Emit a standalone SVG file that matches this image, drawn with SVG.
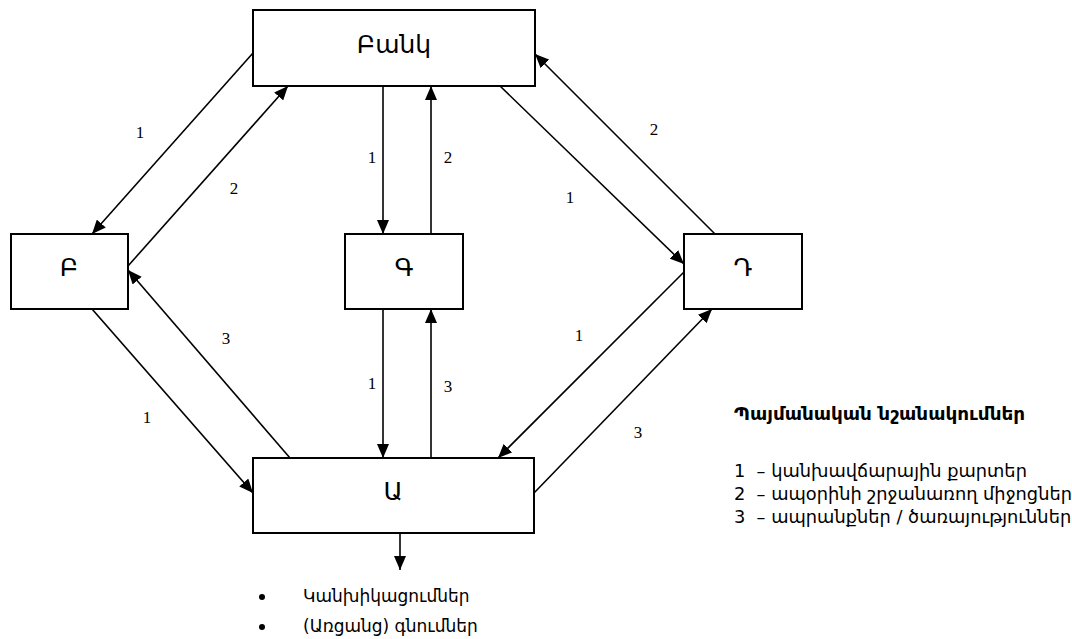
<svg xmlns="http://www.w3.org/2000/svg" width="1072" height="639" viewBox="0 0 1072 639">
<style>
.box{fill:#fff;stroke:#000;stroke-width:2}
.lbl{font-family:"DejaVu Sans","Noto Sans",sans-serif;font-size:25px;fill:#000;text-anchor:middle}
.num{font-family:"Liberation Serif","DejaVu Serif",serif;font-size:17px;fill:#000;text-anchor:middle}
.con line{stroke:#000;stroke-width:1.6;fill:none}
.arr{marker-end:url(#ah)}
.txt{font-family:"DejaVu Sans","Noto Sans",sans-serif;font-size:17.8px;fill:#000}
.btx{font-family:"DejaVu Sans","Noto Sans",sans-serif;font-size:17px;fill:#000}
.ttl{font-family:"DejaVu Sans","Noto Sans",sans-serif;font-size:18.4px;font-weight:bold;fill:#000}
</style>
<defs>
<marker id="ah" markerUnits="userSpaceOnUse" markerWidth="14" markerHeight="12" refX="14" refY="6" orient="auto">
<path d="M0,0 L14,6 L0,12 Z" fill="#000"/>
</marker>
</defs>
<g class="con">
<line class="arr" x1="253" y1="53" x2="92" y2="234"/>
<line class="arr" x1="128" y1="266" x2="288" y2="86"/>
<line class="arr" x1="383" y1="86" x2="383" y2="234"/>
<line class="arr" x1="431" y1="234" x2="431" y2="86"/>
<line class="arr" x1="500" y1="86" x2="684" y2="264"/>
<line class="arr" x1="715" y1="234" x2="535" y2="54"/>
<line class="arr" x1="92" y1="309" x2="253" y2="493"/>
<line class="arr" x1="290" y1="458" x2="128" y2="270"/>
<line class="arr" x1="383" y1="309" x2="383" y2="458"/>
<line class="arr" x1="431" y1="458" x2="431" y2="309"/>
<line class="arr" x1="684" y1="272" x2="498" y2="458"/>
<line class="arr" x1="534" y1="493" x2="712" y2="309"/>
<line class="arr" x1="400" y1="533" x2="400" y2="570"/>
</g>
<g id="bank"><rect class="box" x="253" y="10" width="282" height="76"/><text class="lbl" x="394" y="53">Բանկ</text></g>
<g id="b"><rect class="box" x="11" y="234" width="117" height="75"/><text class="lbl" x="69" y="276">Բ</text></g>
<g id="g"><rect class="box" x="345" y="234" width="118" height="75"/><text class="lbl" x="404" y="276">Գ</text></g>
<g id="d"><rect class="box" x="684" y="234" width="118" height="75"/><text class="lbl" x="743" y="276">Դ</text></g>
<g id="a"><rect class="box" x="253" y="458" width="281" height="75"/><text class="lbl" x="393" y="500">Ա</text></g>
<g id="nums">
<text class="num" x="140" y="138">1</text>
<text class="num" x="234" y="194">2</text>
<text class="num" x="372" y="163">1</text>
<text class="num" x="448" y="163">2</text>
<text class="num" x="570" y="203">1</text>
<text class="num" x="654" y="135">2</text>
<text class="num" x="226" y="344">3</text>
<text class="num" x="147" y="423">1</text>
<text class="num" x="372" y="389">1</text>
<text class="num" x="448" y="392">3</text>
<text class="num" x="579" y="341">1</text>
<text class="num" x="638" y="438">3</text>
</g>
<g id="legend">
<text class="ttl" x="734" y="420">Պայմանական նշանակումներ</text>
<text class="txt" x="734" y="477" xml:space="preserve">1  – կանխավճարային քարտեր</text>
<text class="txt" x="734" y="500" xml:space="preserve">2  – ապօրինի շրջանառող միջոցներ</text>
<text class="txt" x="734" y="523" xml:space="preserve">3  – ապրանքներ / ծառայություններ</text>
</g>
<g id="outputs">
<circle cx="262" cy="597" r="3"/>
<circle cx="262" cy="627" r="3"/>
<text class="btx" x="303" y="602">Կանխիկացումներ</text>
<text class="btx" x="303" y="632">(Առցանց) գնումներ</text>
</g>
</svg>
